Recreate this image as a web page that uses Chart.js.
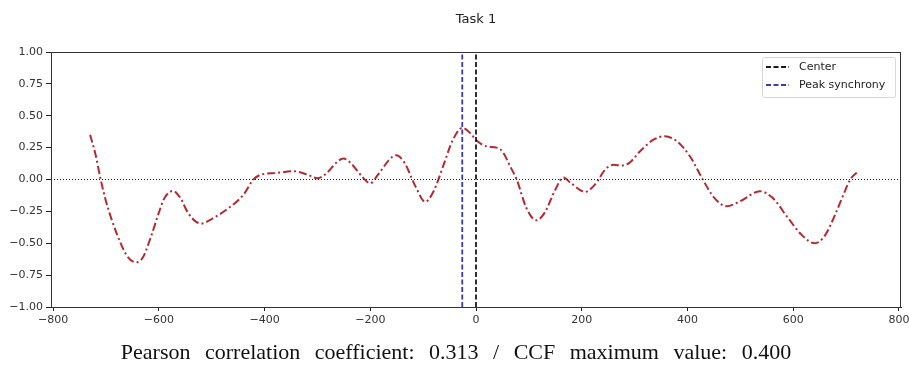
<!DOCTYPE html>
<html>
<head>
<meta charset="utf-8">
<script src="https://cdn.jsdelivr.net/npm/chart.js@4"></script>
<style>
  html, body { margin: 0; padding: 0; background: #fff; }
  #wrap { width: 909px; height: 366px; position: relative; }
</style>
</head>
<body>
<div id="wrap"><canvas id="ccf_chart"></canvas></div>
<script>
// lag (frames) and cross-correlation values
const lags = [-730, -720, -710, -700, -680, -660, -643, -630, -615, -600, -590, -573, -560, -545, -530, -519,
  -500, -470, -440, -421, -405, -380, -345, -320, -300, -280, -265, -251, -235, -215, -200, -185, -165, -151,
  -135, -115, -96, -80, -60, -45, -26, -10, 0, 20, 39, 50, 65, 77, 95, 114, 130, 150, 165, 180, 206, 225, 245,
  260, 275, 290, 310, 335, 357, 380, 405, 429, 450, 474, 500, 537, 560, 590, 615, 641, 660, 680, 695, 708, 722];
const ccf = [0.35, 0.20, 0.00, -0.17, -0.42, -0.60, -0.65, -0.61, -0.45, -0.26, -0.15, -0.09, -0.14, -0.26, -0.33, -0.345,
  -0.31, -0.23, -0.12, 0.00, 0.04, 0.05, 0.065, 0.04, 0.01, 0.06, 0.13, 0.165, 0.12, 0.02, -0.03, 0.04, 0.15, 0.19,
  0.13, -0.05, -0.175, -0.09, 0.13, 0.30, 0.405, 0.36, 0.31, 0.26, 0.25, 0.22, 0.10, 0.00, -0.22, -0.32, -0.26, -0.08, 0.015, -0.03, -0.097, -0.04, 0.08,
  0.115, 0.11, 0.13, 0.22, 0.31, 0.34, 0.30, 0.18, 0.00, -0.14, -0.21, -0.17, -0.092, -0.14, -0.30, -0.43, -0.50, -0.44, -0.27, -0.12, 0.00, 0.06];

const centerLag = 0;
const peakLag = -26;
const xTicks = [-800, -600, -400, -200, 0, 200, 400, 600, 800];
const yTicks = [-1.00, -0.75, -0.50, -0.25, 0.00, 0.25, 0.50, 0.75, 1.00];
const xMin = -804, xMax = 804;
const yMin = -1, yMax = 1;

const titleText = 'Task 1';
const captionText = 'Pearson correlation coefficient: 0.313 / CCF maximum value: 0.400';

const minus = v => String(v).replace('-', '\u2212');

// frame, title over the axes, legend box, caption underneath
const decorPlugin = {
  id: 'decor',
  afterDraw(chart) {
    const { ctx, chartArea: a } = chart;
    ctx.save();
    ctx.strokeStyle = '#333';
    ctx.lineWidth = 1;
    ctx.strokeRect(a.left + 0.5, a.top + 0.5, a.right - a.left - 1, a.bottom - a.top);

    // title centred on the plot area
    ctx.fillStyle = '#222';
    ctx.font = '13px "DejaVu Sans"';
    ctx.textAlign = 'center';
    ctx.textBaseline = 'alphabetic';
    ctx.fillText(titleText, (a.left + a.right) / 2, 23);

    // caption, wide word gaps like the original
    ctx.fillStyle = '#111';
    ctx.font = '22px "Liberation Serif"';
    ctx.wordSpacing = '9px';
    ctx.fillText(captionText, 456, 359);
    ctx.wordSpacing = '0px';

    // legend
    const items = chart.data.datasets.filter(d => d.inLegend);
    const bx = 762, by = 57, bw = 133, bh = 40;
    ctx.fillStyle = 'rgba(255,255,255,0.85)';
    ctx.strokeStyle = '#d8d8d8';
    ctx.beginPath();
    ctx.roundRect(bx + 0.5, by + 0.5, bw, bh, 2);
    ctx.fill();
    ctx.stroke();
    ctx.font = '11px "DejaVu Sans"';
    ctx.textAlign = 'left';
    ctx.textBaseline = 'middle';
    items.forEach((d, i) => {
      const y = by + 10 + i * 18;
      ctx.strokeStyle = d.borderColor;
      ctx.lineWidth = 1.8;
      ctx.setLineDash(d.borderDash);
      ctx.beginPath();
      ctx.moveTo(bx + 4, y);
      ctx.lineTo(bx + 27, y);
      ctx.stroke();
      ctx.setLineDash([]);
      ctx.fillStyle = '#222';
      ctx.fillText(d.label, bx + 37, y);
    });
    ctx.restore();
  }
};

const ctx = document.getElementById('ccf_chart').getContext('2d');

new Chart(ctx, {
  type: 'line',
  data: {
    datasets: [{
      label: 'Center',
      inLegend: true,
      data: [{ x: centerLag, y: yMin }, { x: centerLag, y: yMax }],
      borderColor: '#1a1a1a',
      borderDash: [5, 2.5],
      borderWidth: 1.8,
      pointRadius: 0
    }, {
      label: 'Peak synchrony',
      inLegend: true,
      data: [{ x: peakLag, y: yMin }, { x: peakLag, y: yMax }],
      borderColor: '#3a3ab8',
      borderDash: [5, 2.5],
      borderWidth: 1.8,
      pointRadius: 0
    }, {
      label: 'zero',
      data: [{ x: xMin, y: 0 }, { x: xMax, y: 0 }],
      borderColor: '#222',
      borderDash: [1, 2],
      borderWidth: 1,
      pointRadius: 0
    }, {
      label: 'CCF',
      data: lags.map((l, i) => ({ x: l, y: ccf[i] })),
      borderColor: '#b52a30',
      borderDash: [8, 3, 2, 3],
      borderWidth: 2,
      pointRadius: 0,
      cubicInterpolationMode: 'monotone'
    }]
  },
  options: {
    responsive: true,
    maintainAspectRatio: false,
    animation: false,
    layout: { padding: { left: 0, right: 8, top: 52, bottom: 27 } },
    plugins: {
      legend: { display: false },
      tooltip: { enabled: false },
      title: { display: false }
    },
    scales: {
      x: {
        type: 'linear',
        min: xMin,
        max: xMax,
        afterBuildTicks: s => { s.ticks = xTicks.map(v => ({ value: v })); },
        afterFit: s => { s.height = 32; s.paddingLeft = 0; s.paddingRight = 0; },
        grid: { drawOnChartArea: false, drawTicks: true, tickLength: 4, color: '#222' },
        border: { display: true, color: '#222' },
        ticks: {
          color: '#333',
          font: { family: 'DejaVu Sans', size: 11 },
          padding: 3,
          maxRotation: 0,
          callback: v => minus(v)
        }
      },
      y: {
        min: yMin,
        max: yMax,
        afterBuildTicks: s => { s.ticks = yTicks.map(v => ({ value: v })); },
        afterFit: s => { s.width = 51; s.paddingTop = 0; s.paddingBottom = 0; },
        grid: { drawOnChartArea: false, drawTicks: true, tickLength: 5, color: '#222' },
        border: { display: true, color: '#222' },
        ticks: {
          color: '#333',
          font: { family: 'DejaVu Sans', size: 11 },
          padding: 3,
          callback: v => minus(Number(v).toFixed(2))
        }
      }
    }
  },
  plugins: [decorPlugin]
});
</script>
</body>
</html>
